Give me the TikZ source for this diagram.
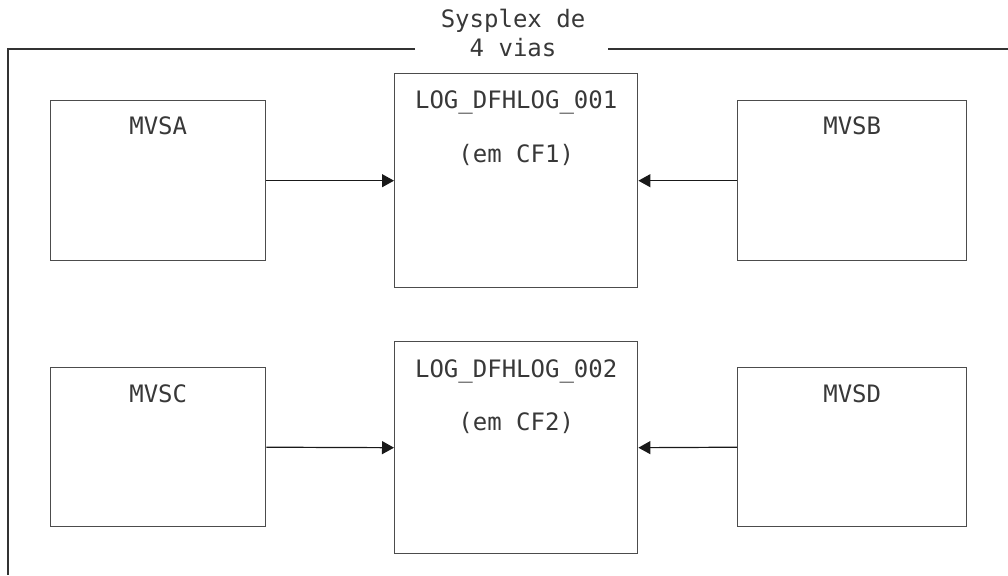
\documentclass[tikz,border=0pt]{standalone}
\usepackage{fontspec}
\setmonofont{DejaVu Sans Mono}
\usetikzlibrary{calc,arrows.meta}

\newcommand{\usc}{\symbol{"5F}}

\tikzset{
  sysbox/.style={draw=black!70, line width=1.4pt, inner sep=0pt, anchor=north west},
  lbl/.style={font=\ttfamily\fontsize{24}{28}\selectfont, text=black!78, anchor=base, inner sep=0pt},
  frame/.style={draw=black!80, line width=1.2pt},
  conn/.style={draw=black!90, line width=1.2pt, -{Triangle[length=12pt,width=13pt]}}
}

\begin{document}
\begin{tikzpicture}[x=1pt,y=-1pt]
\useasboundingbox (0,0) rectangle (1008,575);

% sysplex frame with a gap for its caption
\coordinate (fgapL) at (415,49);
\coordinate (fgapR) at (608,49);
\coordinate (fTL) at (8,49);
\coordinate (fTR) at (1008,49);
\coordinate (fBL) at (8,575);
\draw[frame] (fgapL) -- (fTL) -- (fBL);
\draw[frame] (fgapR) -- (fTR);
\node[lbl] (title) at (513,28) {Sysplex de};
\node[lbl] (title2) at (513,57) {4 vias};

% first row
\node[sysbox, minimum width=215pt, minimum height=160pt] (mvsa) at (50,100) {};
\node[sysbox, minimum width=243pt, minimum height=214pt] (log1) at (394,73) {};
\node[sysbox, minimum width=229pt, minimum height=160pt] (mvsb) at (737,100) {};

% second row
\node[sysbox, minimum width=215pt, minimum height=159pt] (mvsc) at (50,367) {};
\node[sysbox, minimum width=243pt, minimum height=212pt] (log2) at (394,341) {};
\node[sysbox, minimum width=229pt, minimum height=159pt] (mvsd) at (737,367) {};

% box captions
\node[lbl] (tmvsa) at ($(mvsa.north)+(0,35)$) {MVSA};
\node[lbl] (tmvsb) at ($(mvsb.north)+(0,35)$) {MVSB};
\node[lbl] (tmvsc) at ($(mvsc.north)+(0,35)$) {MVSC};
\node[lbl] (tmvsd) at ($(mvsd.north)+(0,35)$) {MVSD};
\node[lbl] (tlog1) at ($(log1.north)+(0,36)$) {LOG\usc DFHLOG\usc 001};
\node[lbl] (tcf1) at ($(log1.north)+(0,89)$) {(em CF1)};
\node[lbl] (tlog2) at ($(log2.north)+(0,36)$) {LOG\usc DFHLOG\usc 002};
\node[lbl] (tcf2) at ($(log2.north)+(0,89)$) {(em CF2)};

% connections to the log streams
\draw[conn] (mvsa.east) -- (log1.west);
\draw[conn] (mvsb.west) -- (log1.east);
\draw[conn] (mvsc.east) -- (log2.west);
\draw[conn] (mvsd.west) -- (log2.east);
\end{tikzpicture}
\end{document}
